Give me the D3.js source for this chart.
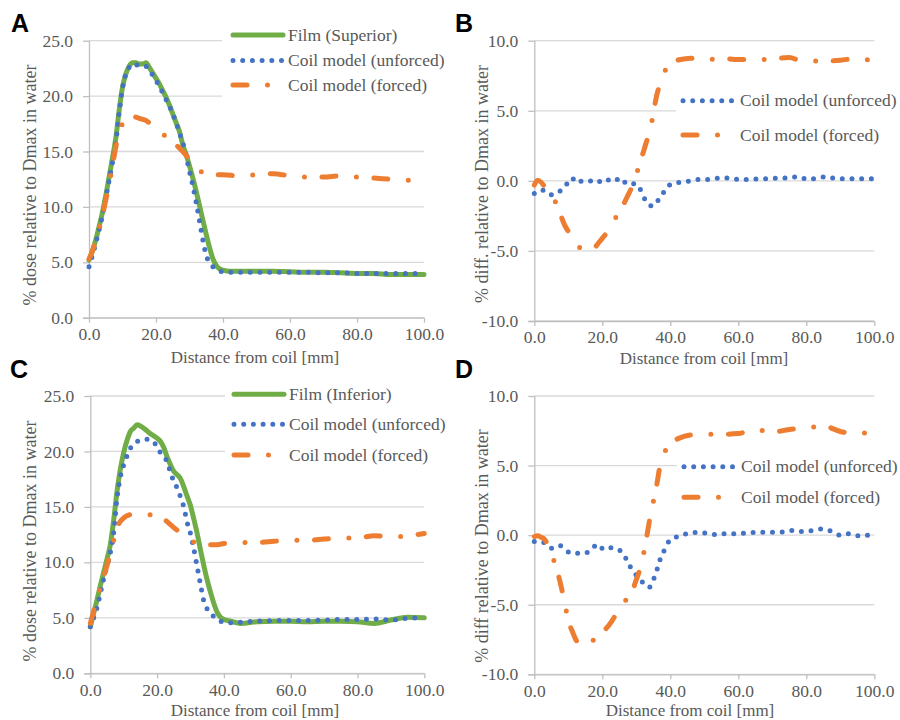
<!DOCTYPE html>
<html><head><meta charset="utf-8">
<script src="https://cdn.jsdelivr.net/npm/d3@7"></script>
<style>body{margin:0;background:#fff} svg{display:block}</style>
</head><body><svg id="c" width="900" height="720"></svg>
<script>
// ---------- DATA ----------
const xTicks = [0, 20, 40, 60, 80, 100];
const doseTicks = [0, 5, 10, 15, 20, 25];
const diffTicks = [-10, -5, 0, 5, 10];

const xDense = [0,1,2,3,4,5,6,7,8,9,10,11,12,13,14,15,16,17,18,19,20,21,22,23,24,25,26,27,28,29,30,31,32,33,34,35,36,37,38,39,40,42,45,50,55,60,65,70,75,80,85,90,95,100];
const xForcedAC = [0,1,2,3,4,5,6,7,8,9,10,11,12,13,14,15,16,17,18,19,20,22,24,26,28,30,32,34,36,38,40,45,50,55,60,65,70,75,80,85,90,95,100];

// Panel A
const filmA = [5.2,6.0,7.0,8.2,9.5,11.0,12.7,14.4,16.2,18.7,20.8,22.0,22.7,23.0,23.0,22.9,22.9,23.0,22.6,22.1,21.6,21.1,20.5,19.9,19.2,18.4,17.6,16.8,15.6,14.7,13.7,12.6,11.4,10.1,8.8,7.5,6.3,5.3,4.7,4.4,4.3,4.2,4.2,4.2,4.2,4.15,4.1,4.1,4.05,4.0,4.0,3.9,3.9,3.9];
const unforcedA = [4.6,5.6,6.7,7.9,9.2,10.8,12.4,14.0,15.8,18.5,20.7,22.0,22.6,22.9,22.8,22.8,22.8,22.7,22.4,21.9,21.4,20.9,20.3,19.7,19.1,18.4,17.6,16.7,15.8,14.6,13.2,11.9,10.4,8.7,7.0,5.6,5.0,4.6,4.35,4.2,4.15,4.1,4.1,4.1,4.1,4.1,4.1,4.05,4.05,4.0,4.0,4.0,4.0,4.0];
const forcedA = [5.3,6.0,7.0,8.0,9.2,10.6,12.0,13.7,15.4,16.8,17.5,17.9,18.1,18.2,18.1,18.0,17.9,17.8,17.6,17.4,17.2,16.6,16.1,15.6,15.0,14.3,13.6,13.1,13.0,12.9,12.9,12.8,12.9,13.0,12.8,12.7,12.7,12.8,12.7,12.6,12.5,12.4,12.4];

// Panel B
const xUnforcedB = [0,2.2,4.6,7.1,9.2,11,12.6,14.1,16.1,18.3,20.6,23.2,25.4,27.4,29.6,31.6,32.7,34.7,36.7,38.4,40.4,43.1,46,48.9,51.7,54.4,57.4,60.3,63.2,66.2,69,71.8,74.6,77.5,80.4,83.3,86,88.9,91.7,94.6,97.5,100];
const unforcedB = [-0.9,-0.65,-1.0,-0.8,-0.35,0.2,-0.15,0,0,-0.15,0.15,-0.05,0.2,-0.25,-0.2,-0.8,-1.4,-1.8,-1.3,-0.7,-0.2,-0.1,0,0.1,0.1,0.2,0.2,0.1,0.1,0.15,0.15,0.2,0.2,0.3,0.1,0.2,0.3,0.15,0.15,0.15,0.15,0.15];
const xForcedB = [0,1,2,3,4,5,6,7,8,9,10,11,12,13,14,15,16,17,18,19,20,21,22,23,24,25,26,27,28,29,30,31,32,33,34,35,36,37,38,39,40,42,44,46,48,50,55,60,65,70,75,78,80,85,90,95,100];
const forcedB = [-0.3,0.05,-0.1,-0.4,-0.7,-1.0,-1.4,-1.9,-2.6,-3.2,-3.6,-4.0,-4.4,-4.7,-4.8,-4.8,-4.8,-4.8,-4.7,-4.4,-4.1,-3.8,-3.4,-3.0,-2.6,-2.2,-1.8,-1.3,-0.8,-0.3,0.4,1.3,2.0,2.8,3.5,4.8,6.1,6.9,7.6,8.1,8.4,8.6,8.7,8.75,8.7,8.6,8.75,8.65,8.65,8.7,8.8,8.6,8.55,8.55,8.6,8.75,8.5];

// Panel C
const filmC = [4.2,5.4,6.6,7.9,9.1,10.3,11.6,13.8,16.4,18.4,19.9,21.0,21.8,22.1,22.4,22.3,22.1,21.85,21.6,21.4,21.2,20.9,20.35,19.5,18.8,18.2,17.9,17.55,16.8,15.95,15.1,13.9,12.6,11.1,9.7,8.4,7.3,6.3,5.5,5.05,4.85,4.7,4.5,4.65,4.7,4.7,4.65,4.7,4.7,4.65,4.5,4.8,5.05,5.0];
const unforcedC = [4.2,5.0,5.9,7.2,8.5,9.7,10.9,12.7,15.8,17.7,18.8,19.6,20.3,20.7,20.9,21.0,21.1,21.1,21.0,20.9,20.3,19.9,19.5,19.1,18.1,17.3,16.7,15.9,15.0,13.6,12.6,11.2,9.6,8.0,6.5,5.8,5.4,5.1,4.85,4.7,4.6,4.55,4.6,4.7,4.75,4.75,4.75,4.8,4.85,4.85,4.9,4.8,4.95,5.0];
const forcedC = [4.5,5.6,6.7,7.7,8.7,9.7,10.9,12.0,13.1,13.7,14.0,14.2,14.3,14.3,14.3,14.3,14.3,14.3,14.3,14.2,14.1,13.9,13.4,12.9,12.5,12.0,11.7,11.6,11.6,11.6,11.7,11.8,11.8,11.9,12.0,12.0,12.1,12.2,12.2,12.4,12.3,12.4,12.6];

// Panel D
const xUnforcedD = [0,2.5,5.1,7.4,9,10.7,12.7,14.9,16.7,18.6,20.6,22.9,25.2,26.9,28.3,30.1,31.9,33.8,35.2,36.2,37,38.2,39.6,42.2,44.8,47.5,50.5,53.3,56.4,59.2,62.2,64.9,67.8,70.6,73.5,76.5,79.1,82.1,84.7,87.7,89.9,92.5,95.3,98,100];
const unforcedD = [-0.45,-0.5,-0.95,-0.75,-1.0,-1.3,-1.3,-1.3,-1.05,-0.65,-1.05,-0.9,-1.1,-1.65,-2.3,-2.9,-3.4,-3.75,-3.1,-2.4,-1.75,-1.1,-0.45,-0.1,0.1,0.2,0.15,0.05,0.1,0.1,0.15,0.2,0.2,0.2,0.25,0.35,0.25,0.35,0.45,0.25,0.0,0.1,-0.05,0.0,0.15];
const xForcedD = [0,1,2,3,4,5,6,7,8,9,10,11,12,13,14,15,16,17,18,19,20,21,22,23,24,25,26,27,28,29,30,31,32,33,34,35,36,37,38,39,40,42,44,46,48,50,55,60,65,70,75,80,85,90,95,100];
const forcedD = [-0.1,-0.05,-0.15,-0.3,-0.7,-1.3,-2.0,-2.8,-3.8,-4.9,-6.2,-6.8,-7.4,-7.8,-7.95,-7.9,-7.75,-7.6,-7.45,-7.3,-7.05,-6.75,-6.45,-6.1,-5.7,-5.3,-4.95,-4.65,-4.4,-3.9,-3.2,-2.5,-1.5,-0.2,1.2,2.4,3.6,5.0,5.75,6.3,6.7,6.9,7.1,7.2,7.25,7.25,7.25,7.3,7.6,7.4,7.6,7.7,7.85,7.45,7.3,7.5];

const seriesNames = ["Film (Superior)", "Film (Inferior)", "Coil model (unforced)", "Coil model (forced)"];
const xTitle = "Distance from coil [mm]";
const yTitles = ["% dose relative to Dmax in water", "% diff. relative to Dmax in water", "% dose relative to Dmax in water", "% diff relative to Dmax in water"];

// ---------- DRAWING ----------
const svg = d3.select('#c');
const COL = {green:'#70AD47', blue:'#4472C4', orange:'#ED7D31', grid:'#d9d9d9', axis:'#bfbfbf', text:'#595959'};
const SERIF = "'Liberation Serif','Times New Roman',serif";
const fmt = d => d.toFixed(1);
const STYLE = {
  film:   {color: COL.green,  width: 5, dash: null},
  unf:    {color: COL.blue,   width: 5, dash: '0 9.7'},
  forced: {color: COL.orange, width: 5, dash: '14 20.5 0 17.5'}
};
const zip = (xs, ys) => xs.map((x, i) => [x, ys[i]]);

function panel(cfg) {
  const g = svg.append('g');
  const x = d3.scaleLinear().domain([0, 100]).range([cfg.l, cfg.r]);
  const y = d3.scaleLinear().domain(d3.extent(cfg.yTicks)).range([cfg.b, cfg.t]);

  g.selectAll('line.grid').data(cfg.yTicks).join('line')
    .attr('x1', cfg.l).attr('x2', cfg.r)
    .attr('y1', d => y(d)).attr('y2', d => y(d))
    .attr('stroke', COL.grid).attr('stroke-width', 1.3);

  const L = cfg.legend;
  g.append('rect').attr('x', L.bx).attr('y', L.by).attr('width', L.bw).attr('height', L.bh).attr('fill', '#fff');

  const xa = g.append('g').attr('transform', `translate(0,${cfg.b})`)
    .call(d3.axisBottom(x).tickValues(xTicks).tickFormat(fmt).tickSize(5).tickSizeOuter(0).tickPadding(5));
  const ya = g.append('g').attr('transform', `translate(${cfg.l},0)`)
    .call(d3.axisLeft(y).tickValues(cfg.yTicks).tickFormat(fmt).tickSize(6).tickSizeOuter(0).tickPadding(10));
  [xa, ya].forEach(a => {
    a.select('.domain').attr('stroke', COL.axis).attr('stroke-width', 1.3);
    a.selectAll('.tick line').attr('stroke', COL.axis).attr('stroke-width', 1.3);
    a.selectAll('.tick text').attr('fill', COL.text).style('font-family', SERIF).style('font-size', '17.5px');
  });
  ya.select('.domain').attr('d', `M0.5,${cfg.t}V${cfg.b}`);
  xa.select('.domain').attr('d', `M${cfg.l - 6},0.5H${cfg.r}`);

  const line = d3.line().x(d => x(d[0])).y(d => y(d[1])).curve(d3.curveMonotoneX);
  cfg.series.forEach(s => {
    const st = STYLE[s.kind];
    g.append('path').datum(zip(s.x, s.y)).attr('d', line)
      .attr('fill', 'none').attr('stroke', st.color).attr('stroke-width', st.width)
      .attr('stroke-linecap', 'round').attr('stroke-linejoin', 'round')
      .attr('stroke-dasharray', st.dash);
  });

  L.items.forEach((it, i) => {
    const st = STYLE[it.kind];
    const yy = L.rows[i];
    g.append('line').attr('x1', L.x1).attr('x2', L.x2).attr('y1', yy).attr('y2', yy)
      .attr('stroke', st.color).attr('stroke-width', st.width)
      .attr('stroke-linecap', 'round').attr('stroke-dasharray', st.dash);
    g.append('text').attr('x', L.tx).attr('y', yy).attr('dy', '0.33em')
      .attr('fill', COL.text).style('font-family', SERIF).style('font-size', '17.5px')
      .text(it.name);
  });

  g.append('text').attr('x', cfg.xtX).attr('y', cfg.xtY).attr('text-anchor', 'middle')
    .attr('fill', COL.text).style('font-family', SERIF).style('font-size', '17px').text(xTitle);
  g.append('text').attr('transform', `translate(${cfg.ytX},${cfg.ytY}) rotate(-90)`)
    .attr('text-anchor', 'middle').attr('dominant-baseline', 'central')
    .attr('fill', COL.text).style('font-family', SERIF).style('font-size', '18px').text(cfg.yTitle);

  g.append('text').attr('x', cfg.lx).attr('y', cfg.ly)
    .style('font-family', "'Liberation Sans',Arial,sans-serif").style('font-weight', 'bold')
    .style('font-size', '25px').attr('fill', '#000').text(cfg.letter);
}

panel({
  letter: 'A', lx: 11, ly: 32,
  l: 89, r: 424, t: 40.7, b: 317.7, yTicks: doseTicks,
  xtX: 255, xtY: 363, ytX: 30, ytY: 185, yTitle: yTitles[0],
  series: [
    {kind: 'film', x: xDense, y: filmA},
    {kind: 'unf', x: xDense, y: unforcedA},
    {kind: 'forced', x: xForcedAC, y: forcedA}
  ],
  legend: {bx: 222, by: 22, bw: 225, bh: 83, x1: 233, x2: 283, tx: 288, rows: [35, 60.5, 85],
    items: [{kind: 'film', name: seriesNames[0]}, {kind: 'unf', name: seriesNames[2]}, {kind: 'forced', name: seriesNames[3]}]}
});
panel({
  letter: 'B', lx: 455, ly: 32,
  l: 534.3, r: 874.3, t: 40.7, b: 321, yTicks: diffTicks,
  xtX: 704, xtY: 364, ytX: 482, ytY: 184, yTitle: yTitles[1],
  series: [
    {kind: 'unf', x: xUnforcedB, y: unforcedB},
    {kind: 'forced', x: xForcedB, y: forcedB}
  ],
  legend: {bx: 676, by: 86, bw: 222, bh: 64, x1: 683, x2: 733, tx: 740, rows: [100.7, 135],
    items: [{kind: 'unf', name: seriesNames[2]}, {kind: 'forced', name: seriesNames[3]}]}
});
panel({
  letter: 'C', lx: 10, ly: 378,
  l: 90.3, r: 424.3, t: 396, b: 673.3, yTicks: doseTicks,
  xtX: 255, xtY: 715.5, ytX: 30, ytY: 541, yTitle: yTitles[2],
  series: [
    {kind: 'film', x: xDense, y: filmC},
    {kind: 'unf', x: xDense, y: unforcedC},
    {kind: 'forced', x: xForcedAC, y: forcedC}
  ],
  legend: {bx: 225, by: 380, bw: 222, bh: 90, x1: 234, x2: 284, tx: 289, rows: [394.3, 424.3, 455],
    items: [{kind: 'film', name: seriesNames[1]}, {kind: 'unf', name: seriesNames[2]}, {kind: 'forced', name: seriesNames[3]}]}
});
panel({
  letter: 'D', lx: 455, ly: 378,
  l: 534.3, r: 874.3, t: 396, b: 674.3, yTicks: diffTicks,
  xtX: 690, xtY: 715.5, ytX: 482, ytY: 546, yTitle: yTitles[3],
  series: [
    {kind: 'unf', x: xUnforcedD, y: unforcedD},
    {kind: 'forced', x: xForcedD, y: forcedD}
  ],
  legend: {bx: 677, by: 452, bw: 221, bh: 60, x1: 684, x2: 734, tx: 741, rows: [466.7, 497.3],
    items: [{kind: 'unf', name: seriesNames[2]}, {kind: 'forced', name: seriesNames[3]}]}
});
</script>
</body></html>
